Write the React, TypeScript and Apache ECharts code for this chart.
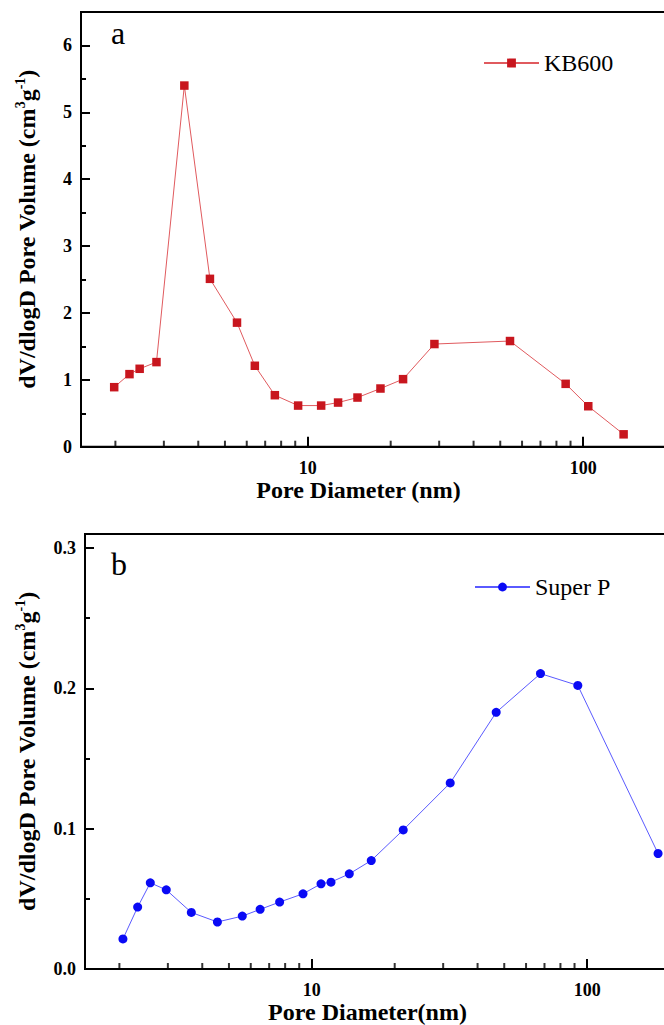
import React, { useEffect, useRef } from "react";
import * as echarts from "echarts";

const FONT = "'Liberation Serif', 'Times New Roman', serif";

// Panel a: KB600
const kbX = [1.98, 2.25, 2.45, 2.82, 3.56, 4.41, 5.53, 6.42, 7.59, 9.22, 11.18, 12.88, 15.15, 18.36, 22.18, 28.83, 54.25, 86.4, 104.4, 140.3];
const kbY = [0.89, 1.085, 1.165, 1.265, 5.4, 2.51, 1.855, 1.21, 0.77, 0.615, 0.615, 0.66, 0.735, 0.87, 1.01, 1.535, 1.58, 0.94, 0.605, 0.185];

// Panel b: Super P
const spX = [2.06, 2.33, 2.59, 2.96, 3.65, 4.54, 5.59, 6.49, 7.64, 9.29, 10.8, 11.74, 13.68, 16.44, 21.48, 31.82, 46.74, 67.7, 92.5, 181];
const spY = [0.0214, 0.0441, 0.0614, 0.0564, 0.0403, 0.0335, 0.0377, 0.0425, 0.0477, 0.0536, 0.0607, 0.0619, 0.0678, 0.0773, 0.0991, 0.1326, 0.1829, 0.2105, 0.2021, 0.0823];

// Axis tick values
const minorTickX = [2, 3, 4, 5, 6, 7, 8, 9, 20, 30, 40, 50, 60, 70, 80, 90];
const xLabels = [10, 100];
const xMin = 1.5;
const xMax = 200;

const yTitle = "{t|dV/dlogD Pore Volume (cm}{s|3}{t|g}{s|-1}{t|)}";

export default function App() {
  const ref = useRef<HTMLDivElement>(null);
  useEffect(() => {
    document.body.style.margin = "0";
    document.body.style.overflow = "hidden";
    if (!ref.current) return;
    const chart = echarts.init(ref.current, null, { renderer: "svg" });

    const richName = {
      t: { fontSize: 24, fontWeight: "bold", fontFamily: FONT, color: "#000", lineHeight: 28 },
      s: { fontSize: 14, fontWeight: "bold", fontFamily: FONT, color: "#000", verticalAlign: "top", lineHeight: 14 },
    };

    const xAxisFor = (gridIndex: number, title: string, pad: number, gap: number) => ({
      type: "log",
      gridIndex,
      min: xMin,
      max: xMax,
      logBase: 10,
      name: title,
      nameLocation: "middle",
      nameGap: gap,
      nameTextStyle: { fontSize: 24, fontWeight: "bold", fontFamily: FONT, color: "#000", padding: [0, pad, 0, 0] },
      axisLine: { show: true, lineStyle: { color: "#000", width: 2 } },
      axisTick: {
        show: true,
        inside: true,
        length: 10,
        lineStyle: { color: "#000", width: 2 },
        interval: 0,
      },
      minorTick: { show: false },
      splitLine: { show: false },
      axisLabel: {
        margin: 12,
        fontSize: 18,
        fontWeight: "bold",
        fontFamily: FONT,
        color: "#000",
        formatter: (v: number) => {
          for (const l of xLabels) if (Math.abs(v - l) < 1e-6 * l) return String(l);
          return "";
        },
      },
    });

    const yMainFor = (gridIndex: number, max: number, interval: number, gap: number, fmt: (v: number) => string) => ({
      type: "value",
      gridIndex,
      min: 0,
      max,
      interval,
      name: yTitle,
      nameLocation: "middle",
      nameGap: gap,
      nameRotate: 90,
      nameTextStyle: { rich: richName },
      axisLine: { show: true, lineStyle: { color: "#000", width: 2 } },
      axisTick: { show: true, inside: true, length: 9, lineStyle: { color: "#000", width: 2 } },
      splitLine: { show: false },
      axisLabel: { margin: 9, fontSize: 18, fontWeight: "bold", fontFamily: FONT, color: "#000", formatter: fmt },
    });

    const yMinorFor = (gridIndex: number, max: number, interval: number) => ({
      type: "value",
      gridIndex,
      min: 0,
      max,
      interval,
      position: "left",
      axisLine: { show: false },
      axisTick: { show: true, inside: true, length: 5, lineStyle: { color: "#000", width: 2 } },
      axisLabel: { show: false },
      splitLine: { show: false },
    });

    const tickSeries = (xi: number, yi: number) => ({
      type: "scatter",
      xAxisIndex: xi,
      yAxisIndex: yi,
      data: minorTickX.map((x) => [x, 0]),
      symbol: "rect",
      symbolSize: [2, 6],
      symbolOffset: [0, -3],
      itemStyle: { color: "#000" },
      silent: true,
      clip: false,
      z: 5,
    });

    const gridW = 585;

    chart.setOption({
      animation: false,
      backgroundColor: "#fff",
      grid: [
        { left: 81, top: 12, width: gridW, height: 434.7, show: true, borderColor: "#000", borderWidth: 2, outerBoundsMode: "none", containLabel: false },
        { left: 85, top: 534, width: gridW, height: 435, show: true, borderColor: "#000", borderWidth: 2, outerBoundsMode: "none", containLabel: false },
      ],
      xAxis: [
        xAxisFor(0, "Pore Diameter (nm)", 30, 20),
        xAxisFor(1, "Pore Diameter(nm)", 20, 22),
      ],
      yAxis: [
        yMainFor(0, 6.5, 1, 40, (v: number) => (v > 6.01 ? "" : String(Math.round(v)))),
        yMinorFor(0, 6.5, 0.5),
        yMainFor(1, 0.31, 0.1, 44, (v: number) => (v > 0.301 ? "" : v.toFixed(1))),
        yMinorFor(1, 0.31, 0.05),
      ],
      legend: [
        {
          data: ["KB600"],
          left: 483,
          top: 51,
          padding: 0,
          itemWidth: 55,
          itemHeight: 11,
          itemGap: 0,
          textStyle: { fontSize: 24, fontFamily: FONT, color: "#000" },
        },
        {
          data: ["Super P"],
          left: 474,
          top: 575,
          padding: 0,
          itemWidth: 55,
          itemHeight: 11,
          itemGap: 0,
          textStyle: { fontSize: 24, fontFamily: FONT, color: "#000" },
        },
      ],
      graphic: [
        { type: "text", left: 111, top: 17, style: { text: "a", font: `32px ${FONT}`, fill: "#000" } },
        { type: "text", left: 111, top: 548, style: { text: "b", font: `32px ${FONT}`, fill: "#000" } },
      ],
      series: [
        {
          name: "KB600",
          type: "line",
          xAxisIndex: 0,
          yAxisIndex: 0,
          data: kbX.map((x, i) => [x, kbY[i]]),
          symbol: "rect",
          symbolSize: 8.5,
          lineStyle: { color: "#e05a5e", width: 1 },
          itemStyle: { color: "#c8161e" },
          z: 3,
        },
        tickSeries(0, 0),
        {
          name: "Super P",
          type: "line",
          xAxisIndex: 1,
          yAxisIndex: 2,
          data: spX.map((x, i) => [x, spY[i]]),
          symbol: "circle",
          symbolSize: 9,
          lineStyle: { color: "#5a5aff", width: 1 },
          itemStyle: { color: "#0a0af5" },
          z: 3,
        },
        tickSeries(1, 2),
      ],
    });

    return () => chart.dispose();
  }, []);

  return (
    <div
      ref={ref}
      style={{ position: "absolute", left: 0, top: 0, width: 664, height: 1025, overflow: "hidden" }}
    />
  );
}
